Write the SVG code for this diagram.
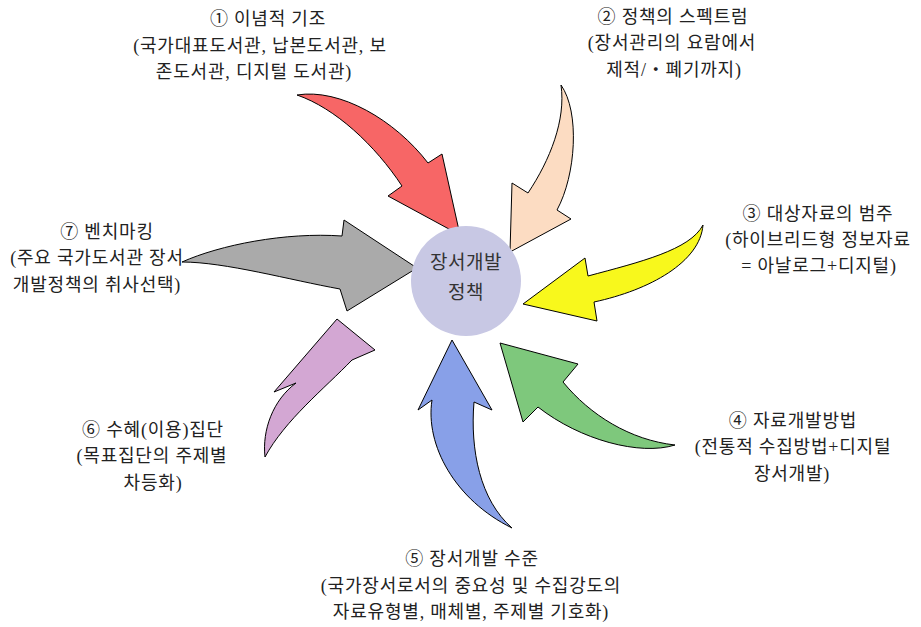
<svg xmlns="http://www.w3.org/2000/svg" width="921" height="627" viewBox="0 0 921 627">
<style>
.lbl{font-family:"Liberation Serif","Noto Sans CJK KR",serif;font-size:18px;letter-spacing:0.8px;fill:#222;text-anchor:middle}
.ctr{font-family:"Liberation Serif","Noto Sans CJK KR",serif;font-size:19px;letter-spacing:0.5px;fill:#333;text-anchor:middle}
.arr{stroke:#000;stroke-width:1;stroke-linejoin:miter}
</style>
<rect width="921" height="627" fill="#fff"/>
<g id="connectors">
<path id="a1" class="arr" fill="#f76666" d="M297,95 C340,88 395,120 428,163 L442,154 L460,235 L388,196 L402,186 C375,145 335,108 297,95 Z"/>
<path id="a2" class="arr" fill="#fcdcc2" d="M561,85 C580,112 576,175 557,210 L571,219 L510,252 L512,183 L528,193 C550,160 566,120 561,85 Z"/>
<path id="a3" class="arr" fill="#f8f81c" d="M703,225 C690,250 640,262 588,276 L585,258 L523,304 L597,321 L594,302 C650,290 700,262 703,225 Z"/>
<path id="a4" class="arr" fill="#7ec87c" d="M500,343 L578,364 L563,382 C590,415 630,440 675,445 C640,456 580,440 538,407 L523,422 Z"/>
<path id="a5" class="arr" fill="#88a0e8" d="M452,340 L492,410 L474,402 C470,450 480,500 512,528 C455,500 425,445 432,400 L418,410 Z"/>
<path id="a6" class="arr" fill="#d3a7d3" d="M337,319 L375,350 L352,360 C325,388 285,420 265,457 C262,430 273,400 296,383 L274,392 Z"/>
<path id="a7" class="arr" fill="#aaaaaa" d="M182,262 C220,245 285,232 342,236 L344,220 L417,268 L347,311 L340,289 C290,280 225,262 182,262 Z"/>
</g>
<g id="center">
<circle cx="466" cy="281" r="55" fill="#c8c8e4"/>
<text class="ctr" x="466" y="269">장서개발</text>
<text class="ctr" x="466" y="299">정책</text>
</g>
<g id="n1">
<text class="lbl" x="268" y="25">① 이념적 기조</text>
<text class="lbl" x="260" y="52">(국가대표도서관, 납본도서관, 보</text>
<text class="lbl" x="254" y="78">존도서관, 디지털 도서관)</text>
</g>
<g id="n2">
<text class="lbl" x="673" y="23">② 정책의 스펙트럼</text>
<text class="lbl" x="672" y="49">(장서관리의 요람에서</text>
<text class="lbl" x="674" y="76">제적/・폐기까지)</text>
</g>
<g id="n3">
<text class="lbl" x="818" y="220">③ 대상자료의 범주</text>
<text class="lbl" x="818" y="246">(하이브리드형 정보자료</text>
<text class="lbl" x="819" y="272">= 아날로그+디지털)</text>
</g>
<g id="n4">
<text class="lbl" x="793" y="427">④ 자료개발방법</text>
<text class="lbl" x="793" y="453">(전통적 수집방법+디지털</text>
<text class="lbl" x="792" y="480">장서개발)</text>
</g>
<g id="n5">
<text class="lbl" x="472" y="565">⑤ 장서개발 수준</text>
<text class="lbl" x="471" y="592">(국가장서로서의 중요성 및 수집강도의</text>
<text class="lbl" x="471" y="618">자료유형별, 매체별, 주제별 기호화)</text>
</g>
<g id="n6">
<text class="lbl" x="153" y="436">⑥ 수혜(이용)집단</text>
<text class="lbl" x="152" y="462">(목표집단의 주제별</text>
<text class="lbl" x="153" y="489">차등화)</text>
</g>
<g id="n7">
<text class="lbl" x="107" y="238">⑦ 벤치마킹</text>
<text class="lbl" x="97" y="264">(주요 국가도서관 장서</text>
<text class="lbl" x="97" y="291">개발정책의 취사선택)</text>
</g>
</svg>
